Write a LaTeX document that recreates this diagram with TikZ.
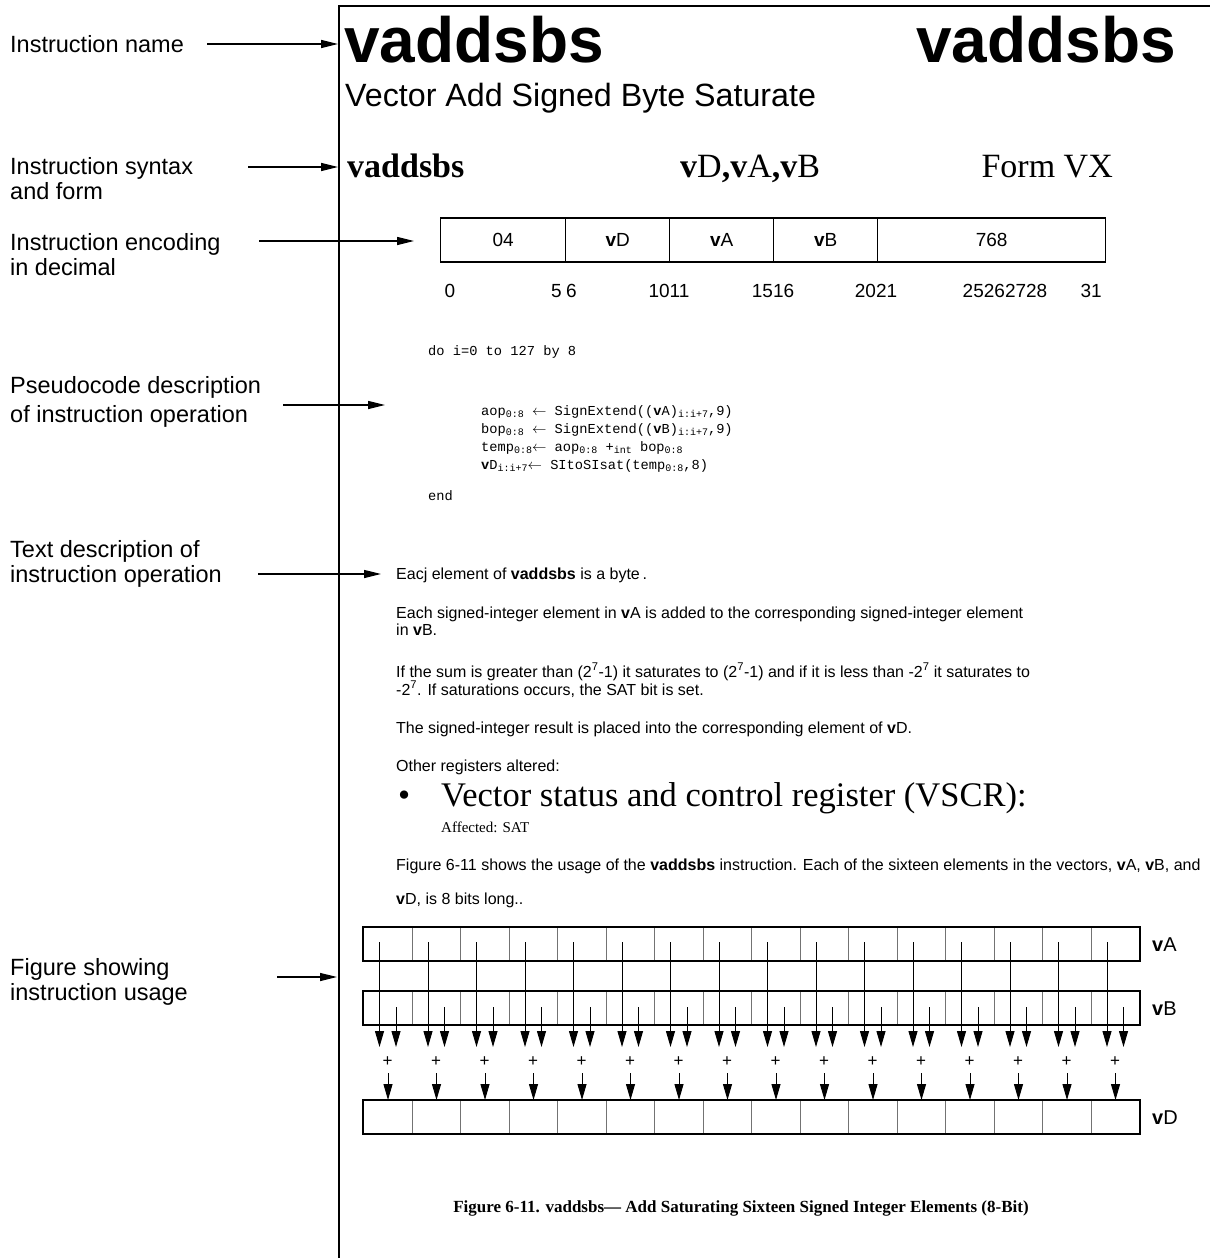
\documentclass[tikz,border=0pt]{standalone}
\usepackage{fontspec}
\setmainfont{Liberation Serif}
\setsansfont{Liberation Sans}
\setmonofont{Liberation Mono}
\usetikzlibrary{arrows.meta}
\newcommand\fsz[2]{\fontsize{#1}{#2}\selectfont}
\newcommand\sbs[1]{\raisebox{-2.5pt}{\fontsize{10}{10}\selectfont #1}}
\newcommand\lar{\ensuremath{\leftarrow}}
\tikzset{
  lbl/.style={anchor=west, inner sep=0pt, align=left, font=\sffamily\fsz{23.5}{25}},
  ptr/.style={line width=1.3pt, -{Triangle[length=17pt,width=8pt]}},
  txt/.style={anchor=base west, inner sep=0pt, font=\sffamily\fsz{16}{17}},
  code/.style={anchor=base west, inner sep=0pt, font=\ttfamily\fsz{13.7}{16}},
  field/.style={draw, line width=1.3pt, anchor=west, inner sep=0pt, minimum height=44pt, font=\sffamily\fsz{19}{20}},
  bitno/.style={anchor=base, inner sep=0pt, font=\sffamily\fsz{19}{20}},
  cell/.style={draw=black!55, line width=0.8pt, anchor=north west, inner sep=0pt, minimum width=48.5pt, minimum height=33pt},
  farr/.style={line width=1pt, -{Triangle[length=16pt,width=9pt]}},
  vlab/.style={anchor=base west, inner sep=0pt, font=\sffamily\fsz{20}{22}}
}
\begin{document}
\begin{tikzpicture}[x=1pt,y=-1pt]
\useasboundingbox (0,0) rectangle (1210,1258);
% page frame
\draw[line width=2pt] (339,1258) -- (339,6) -- (1210,6);

% left annotation labels
\node[lbl] (lname) at (10,44) {Instruction name};
\node[lbl] (lsyn) at (10,179) {Instruction syntax\\and form};
\node[lbl] (lenc) at (10,255) {Instruction encoding\\in decimal};
\node[lbl, font=\sffamily\fsz{23.5}{29}] (lpse) at (10,402) {Pseudocode description\\of instruction operation};
\node[lbl] (ltxt) at (10,564) {Text description of\\instruction operation};
\node[lbl] (lfig) at (10,982) {Figure showing\\instruction usage};

\coordinate (s1) at (207,44);  \coordinate (e1) at (338,44);
\coordinate (s2) at (248,167); \coordinate (e2) at (338,167);
\coordinate (s3) at (259,241); \coordinate (e3) at (414,241);
\coordinate (s4) at (283,405); \coordinate (e4) at (385,405);
\coordinate (s5) at (258,574); \coordinate (e5) at (381,574);
\coordinate (s6) at (277,977); \coordinate (e6) at (337,977);
\foreach \k in {1,...,6} \draw[ptr] (s\k) -- (e\k);

% title
\node[anchor=base west, inner sep=0pt, font=\sffamily\bfseries\fsz{64}{64}] (tl) at (344,62) {vaddsbs};
\node[anchor=base east, inner sep=0pt, font=\sffamily\bfseries\fsz{64}{64}] (tr) at (1176,62) {vaddsbs};
\node[anchor=base west, inner sep=0pt, font=\sffamily\fsz{32.2}{36}] (sub) at (345,106) {Vector Add Signed Byte Saturate};

% syntax
\node[anchor=base west, inner sep=0pt, font=\rmfamily\fsz{34}{36}] (syn1) at (347,177) {\textbf{vaddsbs}};
\node[anchor=base west, inner sep=0pt, font=\rmfamily\fsz{34}{36}] (syn2) at (680,177) {\textbf{v}D\textbf{,v}A\textbf{,v}B};
\node[anchor=base east, inner sep=0pt, font=\rmfamily\fsz{34}{36}] (syn3) at (1113,177) {Form VX};

% encoding
\node[field, minimum width=125pt] (f1) at (440,240) {04};
\node[field, minimum width=104pt] (f2) at (565,240) {\textbf{v}D};
\node[field, minimum width=104pt] (f3) at (669,240) {\textbf{v}A};
\node[field, minimum width=104pt] (f4) at (773,240) {\textbf{v}B};
\node[field, minimum width=228pt] (f5) at (877,240) {768};
\node[bitno] (b0) at (450,297) {0};
\node[bitno, anchor=base east] (b5) at (562,297) {5};
\node[bitno, anchor=base west] (b6) at (566,297) {6};
\node[bitno] (b10) at (669,297) {1011};
\node[bitno] (b15) at (773,297) {1516};
\node[bitno] (b20) at (876,297) {2021};
\node[bitno] (b25) at (1005,297) {25262728};
\node[bitno, anchor=base east] (b31) at (1102,297) {31};

% pseudocode
\node[code] (pc0) at (428,355) {do i=0 to 127 by 8};
\node[code] (pc1) at (481,415) {aop\sbs{0:8} \lar{} SignExtend((\textbf{v}A)\sbs{i:i+7},9)};
\node[code] (pc2) at (481,433) {bop\sbs{0:8} \lar{} SignExtend((\textbf{v}B)\sbs{i:i+7},9)};
\node[code] (pc3) at (481,451) {temp\sbs{0:8}\lar{} aop\sbs{0:8} +\sbs{int} bop\sbs{0:8}};
\node[code] (pc4) at (481,469) {\textbf{v}D\sbs{i:i+7}\lar{} SItoSIsat(temp\sbs{0:8},8)};
\node[code] (pc5) at (428,500) {end};

% description
\node[txt] (d1) at (396,579) {Eacj element of \textbf{vaddsbs} is a byte\,.};
\node[txt] (d2) at (396,618) {Each signed-integer element in \textbf{v}A is added to the corresponding signed-integer element};
\node[txt] (d3) at (396,635) {in \textbf{v}B.};
\node[txt] (d4) at (396,677) {If the sum is greater than (2\textsuperscript{7}-1) it saturates to (2\textsuperscript{7}-1) and if it is less than -2\textsuperscript{7} it saturates to};
\node[txt] (d5) at (396,695) {-2\textsuperscript{7}. If saturations occurs, the SAT bit is set.};
\node[txt] (d6) at (396,733) {The signed-integer result is placed into the corresponding element of \textbf{v}D.};
\node[txt] (d7) at (396,771) {Other registers altered:};
\node[anchor=base west, inner sep=0pt, font=\rmfamily\fsz{34.5}{36}] (bul) at (398,806) {\textbullet};
\node[anchor=base west, inner sep=0pt, font=\rmfamily\fsz{34.5}{36}] (vscr) at (441,806) {Vector status and control register (VSCR):};
\node[anchor=base west, inner sep=0pt, font=\rmfamily\fsz{15}{16}] (aff) at (441,832) {Affected: SAT};
\node[txt] (d8) at (396,870) {Figure 6-11 shows the usage of the \textbf{vaddsbs} instruction. Each of the sixteen elements in the vectors, \textbf{v}A, \textbf{v}B, and};
\node[txt] (d9) at (396,904) {\textbf{v}D, is 8 bits long..};

% figure
\foreach \i in {0,...,15} {
  \pgfmathsetmacro\cx{363+48.5*\i}
  \node[cell] (A\i) at (\cx,927) {};
  \node[cell] (B\i) at (\cx,991) {};
  \node[cell] (D\i) at (\cx,1100) {};
  \coordinate (as\i) at (\cx+16.5,942);
  \coordinate (ae\i) at (\cx+16.5,1047);
  \coordinate (bs\i) at (\cx+33,1007);
  \coordinate (be\i) at (\cx+33,1047);
  \node[inner sep=0pt, font=\sffamily\fsz{17}{18}] (p\i) at (\cx+24.5,1062) {+};
  \coordinate (cs\i) at (\cx+25,1073);
  \coordinate (ce\i) at (\cx+25,1100);
  \draw[farr] (as\i) -- (ae\i);
  \draw[farr] (bs\i) -- (be\i);
  \draw[farr] (cs\i) -- (ce\i);
}
\draw[line width=1.6pt] (A0.north west) rectangle (A15.south east);
\draw[line width=1.6pt] (B0.north west) rectangle (B15.south east);
\draw[line width=1.6pt] (D0.north west) rectangle (D15.south east);
\node[vlab] (lA) at (1152,951) {\textbf{v}A};
\node[vlab] (lB) at (1152,1015) {\textbf{v}B};
\node[vlab] (lD) at (1152,1124) {\textbf{v}D};

% caption
\node[anchor=base, inner sep=0pt, font=\rmfamily\bfseries\fsz{17}{18}] (cap) at (741,1212) {Figure 6-11. vaddsbs--- Add Saturating Sixteen Signed Integer Elements (8-Bit)};
\end{tikzpicture}
\end{document}
